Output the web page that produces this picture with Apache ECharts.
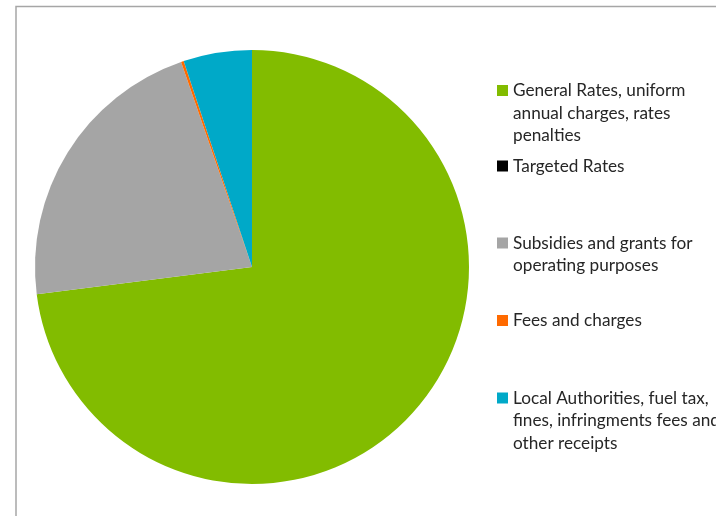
<!DOCTYPE html>
<html>
<head>
<meta charset="utf-8">
<script src="https://cdn.jsdelivr.net/npm/echarts@6/dist/echarts.min.js"></script>
<style>
  html, body { margin: 0; padding: 0; background: #fff; }
  #chart { width: 716px; height: 516px; }
</style>
</head>
<body>
<div id="chart"></div>
<script>
// Revenue sources (share of total, %)
const categories = [
  'General Rates, uniform\nannual charges, rates\npenalties',
  'Targeted Rates',
  'Subsidies and grants for\noperating purposes',
  'Fees and charges',
  'Local Authorities, fuel tax,\nfines, infringments fees and\nother receipts'
];
const values = [73.0, 0, 21.7, 0.2, 5.1];
const colors = ['#82BC00', '#000000', '#A5A5A5', '#FF6A00', '#00A9C8'];

// Legend layout: vertical centre of each entry's first text line
const legendLineY = [90.5, 166, 243, 320.5, 398];
const LINE_H = 22.5;

const chart = echarts.init(document.getElementById('chart'), null, { renderer: 'canvas' });

// The legend icon sits at the middle of its text block; leading blank
// lines move the first real line level with the icon.
const legends = categories.map((name, i) => {
  const n = name.split('\n').length;
  const boxH = (2 * n - 1) * LINE_H;
  return {
    orient: 'vertical',
    left: 497,
    top: legendLineY[i] - boxH / 2,
    padding: 0,
    itemWidth: 11,
    itemHeight: 11,
    itemGap: 0,
    icon: 'rect',
    selectedMode: false,
    data: [name],
    formatter: (nm) => '\n'.repeat(n - 1) + nm,
    textStyle: {
      fontFamily: 'Lato',
      fontSize: 17.2,
      color: '#262626',
      lineHeight: LINE_H
    }
  };
});

chart.setOption({
  animation: false,
  backgroundColor: '#ffffff',
  color: colors,
  legend: legends,
  graphic: [{
    type: 'rect',
    shape: { x: 16, y: 6.5, width: 760, height: 560 },
    style: { fill: null, stroke: '#a6a6a6', lineWidth: 1.5 },
    silent: true
  }],
  series: [{
    type: 'pie',
    center: [252, 267],
    radius: [0, 217],
    startAngle: 90,
    clockwise: true,
    silent: true,
    label: { show: false },
    labelLine: { show: false },
    itemStyle: { borderWidth: 0 },
    data: categories.map((name, i) => ({ name: name, value: values[i] }))
  }]
});
</script>
</body>
</html>
